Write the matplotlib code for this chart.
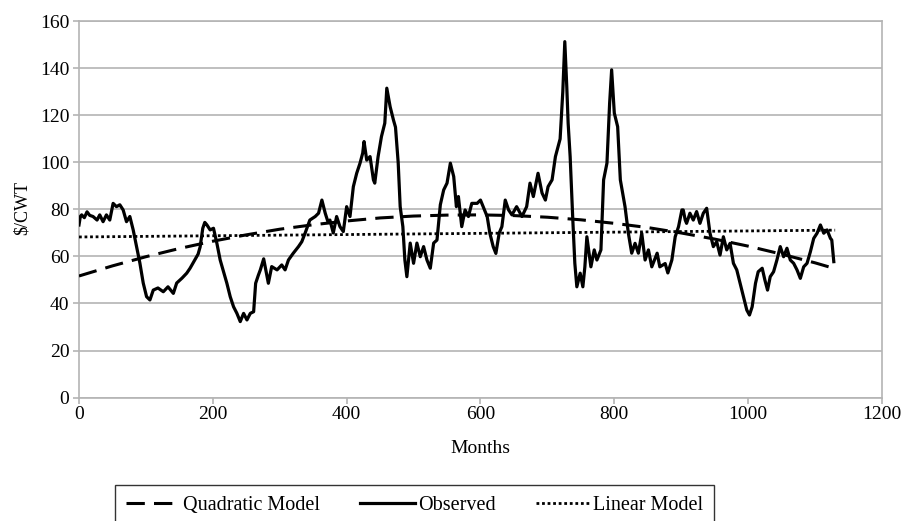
import matplotlib
matplotlib.use("Agg")
import matplotlib.pyplot as plt

# ── data ──────────────────────────────────────────────────────────────────────

obs_months = [
    0, 2, 4, 8, 12, 16, 21, 27, 31, 36, 41, 46, 51, 56, 61, 66, 71, 76, 81, 86,
    91, 96, 101, 106, 111, 118, 126, 133, 141, 146, 154, 161, 166, 173, 178, 181,
    185, 188, 191, 196, 201, 206, 211, 216, 221, 226, 231, 236, 241, 246, 251,
    256, 261, 264, 268, 271, 276, 281, 283, 288, 296, 303, 308, 313, 320, 328,
    333, 338, 345, 353, 358, 363, 368, 372, 375, 380, 385, 390, 395, 400, 405,
    410, 415, 420, 424, 426, 430, 435, 440, 442, 447, 452, 457, 460, 465, 470,
    473, 477, 480, 484, 487, 490, 495, 500, 505, 510, 515, 520, 525, 530, 535,
    540, 545, 550, 555, 560, 564, 567, 572, 577, 582, 587, 595, 600, 604, 610,
    614, 619, 623, 628, 632, 637, 642, 647, 654, 662, 669, 674, 679, 686, 692,
    697, 701, 707, 712, 719, 723, 726, 729, 731, 734, 738, 741, 744, 749, 753,
    756, 759, 765, 770, 774, 780, 784, 789, 793, 796, 800, 805, 809, 816, 821,
    826, 831, 836, 841, 846, 851, 856, 864, 868, 876, 880, 886, 891, 896, 901,
    903, 906, 908, 913, 918, 923, 928, 933, 938, 943, 948, 953, 958, 963, 968,
    973, 978, 983, 988, 993, 998, 1002, 1006, 1011, 1015, 1021, 1025, 1029,
    1033, 1038, 1043, 1048, 1053, 1058, 1063, 1068, 1073, 1078, 1083, 1088,
    1093, 1098, 1103, 1108, 1113, 1118, 1123, 1125, 1128,
]
obs_values = [
    73.4, 77, 77.7, 76.5, 79, 77.5, 77, 75.5, 77.7, 74.8, 77.7, 75.5, 82.6, 81.2,
    82, 79.8, 74.8, 77, 71.3, 64.2, 57.2, 48.7, 42.9, 41.5, 45.7, 46.6, 45, 47.1,
    44.3, 48.7, 50.8, 52.9, 55, 58.5, 61, 64, 72, 74.5, 73.5, 71.3, 72, 65.7,
    58.5, 53.5, 48.6, 42.9, 38.6, 35.8, 32.3, 35.8, 33, 35.8, 36.5, 48.6, 52,
    54.3, 59, 51.4, 48.6, 55.7, 54.3, 56.4, 54.3, 58.5, 61.3, 64.2, 66.3, 70,
    75.5, 77, 78.4, 84, 78.4, 74.8, 75.5, 70, 77, 72.7, 70.6, 81.2, 77, 89.7,
    95.4, 99.7, 104, 108.9, 101, 102.5, 92.6, 91.2, 102.5, 111, 116.7, 131.6,
    123.7, 118, 115, 100, 81.2, 72.7, 58.5, 51.4, 65.7, 57.1, 65.7, 59.9, 64.2,
    58.5, 55, 65.7, 67, 82, 88.3, 91.2, 99.7, 94, 81.2, 85.5, 72.7, 79.8, 77,
    82.6, 82.6, 84, 81.2, 77, 69.9, 64.2, 61.3, 70, 72.7, 84, 79.8, 77.7, 81.2,
    77, 81.2, 91.2, 85.5, 95.4, 87, 84, 89.7, 92.6, 102.5, 110, 130, 151.4, 132,
    116.7, 102.5, 75.5, 57.1, 47.1, 52.9, 47.1, 55.6, 68.4, 55.6, 62.8, 58.5,
    62.8, 92.6, 99.7, 125.2, 139.4, 121, 115.2, 92.6, 81.2, 69.9, 61.4, 65.6,
    61.4, 69.9, 58.5, 62.8, 55.6, 61.4, 55.6, 57, 53, 58.5, 68.4, 72.7, 79.8,
    79.8, 75.5, 74.1, 78.4, 75.5, 79.1, 74.1, 78.4, 80.5, 69.9, 64.2, 66.3,
    60.6, 68.4, 62.8, 65.6, 57.1, 54.3, 48.6, 42.9, 37.2, 35.1, 38.6, 48.6,
    53.5, 55, 50, 45.7, 51.4, 53.5, 58.5, 64.2, 59.9, 63.5, 58.5, 57.1, 54.3,
    50.7, 55.6, 57.1, 62, 67.7, 69.9, 73.4, 69.9, 71.3, 67.7, 67, 57.8,
]

quad_months = [0, 50, 100, 150, 200, 250, 300, 350, 400, 450, 500, 550, 600,
               650, 700, 750, 800, 850, 900, 950, 1000, 1050, 1100, 1130]
quad_values = [51.7, 56.0, 59.9, 63.4, 66.5, 69.2, 71.6, 73.5, 75.1, 76.4,
               77.2, 77.6, 77.7, 77.4, 76.7, 75.6, 74.1, 72.3, 70.0, 67.4,
               64.4, 61.0, 57.3, 54.8]

lin_months = [0, 1130]
lin_values = [68.3, 71.2]

x_ticks = [0, 200, 400, 600, 800, 1000, 1200]
y_ticks = [0, 20, 40, 60, 80, 100, 120, 140, 160]

# ── plot ──────────────────────────────────────────────────────────────────────

plt.rcParams["font.family"] = ["Liberation Serif", "DejaVu Serif"]
GRID = "#b4b4b4"

fig = plt.figure(figsize=(9.10, 5.21), dpi=100)
ax = fig.add_axes([0.0868, 0.237, 0.8824, 0.7219])

ax.plot(quad_months, quad_values, color="black", lw=2.2,
        linestyle=(0, (6, 3)), label="Quadratic Model", zorder=3)
ax.plot(obs_months, obs_values, color="black", lw=2.3,
        label="Observed", zorder=4)
ax.plot(lin_months, lin_values, color="black", lw=2.0,
        linestyle=(0, (1, 1)), label="Linear Model", zorder=3)

ax.set_xlim(0, 1200)
ax.set_ylim(0, 160)
ax.set_xticks(x_ticks)
ax.set_yticks(y_ticks)
ax.yaxis.grid(True, color=GRID, lw=1.2)
ax.set_axisbelow(True)
for sp in ax.spines.values():
    sp.set_color(GRID)
    sp.set_linewidth(1.2)
ax.tick_params(axis="both", colors=GRID, length=4, width=1.2,
               labelsize=14, labelcolor="black")
ax.tick_params(axis="x", pad=2)
ax.tick_params(axis="y", pad=3)

ax.set_xlabel("Months", fontsize=14)
ax.xaxis.set_label_coords(0.5, -0.112)
ax.set_ylabel(r"\$/CWT", fontsize=13)
ax.yaxis.set_label_coords(-0.06, 0.505)

handles, labels = ax.get_legend_handles_labels()
leg = fig.legend(handles, labels, loc="upper center", ncol=3,
                 bbox_to_anchor=(0.4555, 0.069), fontsize=14.5,
                 frameon=True, fancybox=False, edgecolor="black",
                 handlelength=2.7, handletextpad=0.15, columnspacing=2.0,
                 borderpad=0.55, borderaxespad=0.0)
leg.get_frame().set_linewidth(1.0)

fig.savefig("out.png", dpi=100)
